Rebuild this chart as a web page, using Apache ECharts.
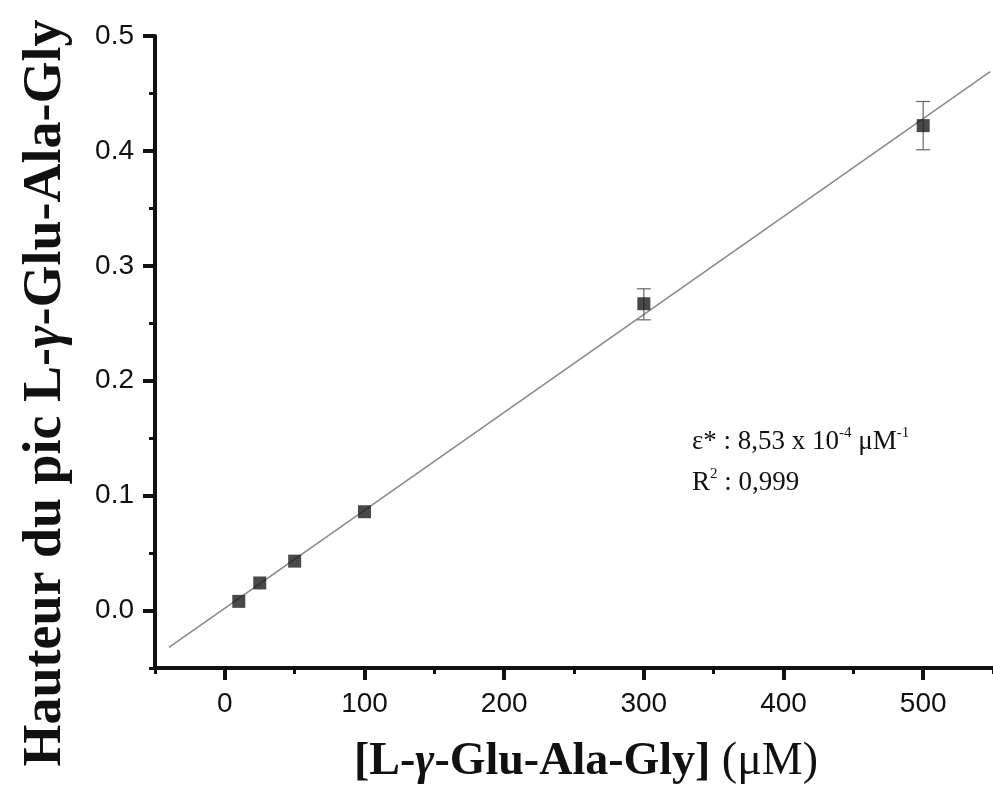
<!DOCTYPE html>
<html><head><meta charset="utf-8">
<script src="https://cdn.jsdelivr.net/npm/echarts@6/dist/echarts.min.js"></script>
<style>html,body{margin:0;padding:0;background:#fff}#c{width:993px;height:790px}</style>
</head><body><div id="c"></div>
<script>
// Data
const concX = [10, 25, 50, 100, 300, 500];
const peakY = [0.008, 0.024, 0.043, 0.086, 0.267, 0.422];
const errLow = [null, null, null, null, 0.253, 0.401];
const errHigh = [null, null, null, null, 0.280, 0.443];
const fitX = [-40, 548];
const fitY = [-0.032, 0.469];
const xMajorTicks = [0, 100, 200, 300, 400, 500];
const xMinorTicks = [-50, 50, 150, 250, 350, 450, 550];
const yMajorTicks = [0.0, 0.1, 0.2, 0.3, 0.4, 0.5];
const yMinorTicks = [-0.05, 0.05, 0.15, 0.25, 0.35, 0.45];

const chart = echarts.init(document.getElementById('c'), null, {renderer: 'canvas'});
const AX = '#111';
const labelFont = '"Liberation Sans", Arial, sans-serif';
const serif = '"Liberation Serif", "Times New Roman", serif';

const scatterData = concX.map((x, i) => [x, peakY[i]]);
const errData = concX.map((x, i) => [x, errLow[i], errHigh[i]]).filter(d => d[1] != null);
const fitData = fitX.map((x, i) => [x, fitY[i]]);

function baseX(extra) {
  return Object.assign({
    type: 'value', min: -50, max: 550, position: 'bottom',
    splitLine: {show: false}
  }, extra);
}
function baseY(extra) {
  return Object.assign({
    type: 'value', min: -0.05, max: 0.5, position: 'left',
    splitLine: {show: false}
  }, extra);
}

const option = {
  backgroundColor: '#fff',
  animation: false,
  grid: {left: 155, right: 0, top: 36, bottom: 122, containLabel: false, outerBoundsMode: 'none'},
  xAxis: [
    baseX({
      axisLine: {show: true, onZero: false, lineStyle: {color: AX, width: 4}},
      axisTick: {show: true, customValues: xMajorTicks, length: 12, lineStyle: {color: AX, width: 4}},
      axisLabel: {show: true, customValues: xMajorTicks, fontSize: 28, color: '#111', fontFamily: labelFont, margin: 22}
    }),
    baseX({
      axisLine: {show: false, onZero: false},
      axisTick: {show: true, customValues: xMinorTicks, length: 6, lineStyle: {color: AX, width: 3}},
      axisLabel: {show: false}
    })
  ],
  yAxis: [
    baseY({
      axisLine: {show: true, onZero: false, lineStyle: {color: AX, width: 4}},
      axisTick: {show: true, customValues: yMajorTicks, length: 12, lineStyle: {color: AX, width: 4}},
      axisLabel: {show: true, customValues: yMajorTicks, fontSize: 28, color: '#111', fontFamily: labelFont, margin: 21,
        formatter: v => Number(v).toFixed(1)}
    }),
    baseY({
      axisLine: {show: false, onZero: false},
      axisTick: {show: true, customValues: yMinorTicks, length: 6, lineStyle: {color: AX, width: 3}},
      axisLabel: {show: false}
    })
  ],
  series: [
    {
      type: 'line', data: fitData, symbol: 'none', xAxisIndex: 0, yAxisIndex: 0,
      lineStyle: {color: '#8a8a8a', width: 1.6}, silent: true, z: 2
    },
    {
      type: 'custom', xAxisIndex: 0, yAxisIndex: 0, data: errData, z: 3,
      renderItem: function (params, api) {
        const x = api.value(0);
        const lo = api.coord([x, api.value(1)]);
        const hi = api.coord([x, api.value(2)]);
        const hw = 7;
        const st = {stroke: '#666', lineWidth: 1.2};
        return {
          type: 'group',
          children: [
            {type: 'line', shape: {x1: lo[0], y1: lo[1], x2: hi[0], y2: hi[1]}, style: st},
            {type: 'line', shape: {x1: lo[0] - hw, y1: lo[1], x2: lo[0] + hw, y2: lo[1]}, style: st},
            {type: 'line', shape: {x1: hi[0] - hw, y1: hi[1], x2: hi[0] + hw, y2: hi[1]}, style: st}
          ]
        };
      }
    },
    {
      type: 'scatter', data: scatterData, xAxisIndex: 0, yAxisIndex: 0,
      symbol: 'rect', symbolSize: 13, itemStyle: {color: '#1c1c1c'}, z: 4
    }
  ],
  graphic: [
    {
      type: 'text', x: 586, y: 762,
      style: {
        text: '{b|[L-}{g|γ}{b|-Glu-Ala-Gly] }{n|(μM)}',
        align: 'center', verticalAlign: 'middle',
        rich: {
          b: {fontFamily: serif, fontWeight: 'bold', fontSize: 46, fill: '#111'},
          g: {fontFamily: serif, fontWeight: 'bold', fontStyle: 'italic', fontSize: 46, fill: '#111'},
          n: {fontFamily: serif, fontWeight: 'normal', fontSize: 46, fill: '#111'}
        }
      }
    },
    {
      type: 'text', x: 46, y: 393, rotation: Math.PI / 2,
      style: {
        text: '{b|Hauteur du pic L-}{g|γ}{b|-Glu-Ala-Gly}',
        align: 'center', verticalAlign: 'middle',
        rich: {
          b: {fontFamily: serif, fontWeight: 'bold', fontSize: 54, fill: '#111'},
          g: {fontFamily: serif, fontWeight: 'bold', fontStyle: 'italic', fontSize: 54, fill: '#111'}
        }
      }
    },
    {
      type: 'text', x: 692, y: 426,
      style: {
        text: '{t|ε* : 8,53 x 10}{s|-4}{t| μM}{s|-1}',
        align: 'left', verticalAlign: 'top',
        rich: {
          t: {fontFamily: serif, fontSize: 27, fill: '#111', lineHeight: 32},
          s: {fontFamily: serif, fontSize: 15, fill: '#111', verticalAlign: 'top'}
        }
      }
    },
    {
      type: 'text', x: 692, y: 467,
      style: {
        text: '{t|R}{s|2}{t| : 0,999}',
        align: 'left', verticalAlign: 'top',
        rich: {
          t: {fontFamily: serif, fontSize: 27, fill: '#111', lineHeight: 32},
          s: {fontFamily: serif, fontSize: 15, fill: '#111', verticalAlign: 'top'}
        }
      }
    }
  ]
};
chart.setOption(option);
</script>
</body></html>
